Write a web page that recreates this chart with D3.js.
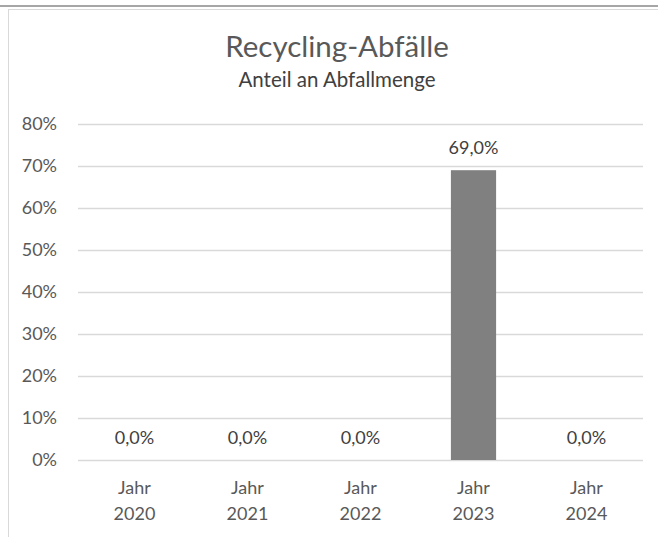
<!DOCTYPE html>
<html>
<head>
<meta charset="utf-8">
<title>Recycling-Abfälle</title>
<script src="https://cdn.jsdelivr.net/npm/d3@7"></script>
<style>
  body { margin: 0; background: #fff; }
  svg { display: block; font-family: Lato, "Open Sans", sans-serif; }
</style>
</head>
<body>
<svg id="chart" width="658" height="537"></svg>
<script>
// data
var years = ['Jahr 2020', 'Jahr 2021', 'Jahr 2022', 'Jahr 2023', 'Jahr 2024'];
var shares = [0.0, 0.0, 0.0, 69.0, 0.0];
var yTicks = [0, 10, 20, 30, 40, 50, 60, 70, 80];

var W = 658, H = 537;
var plot = { left: 78, right: 643, top: 124, bottom: 460 };
var textColor = '#595959';

var svg = d3.select('#chart');

// frame of the chart (top rule + left border)
svg.append('line').attr('x1', 0).attr('x2', W).attr('y1', 6).attr('y2', 6)
  .attr('stroke', '#a6a6a6').attr('stroke-width', 2);
svg.append('line').attr('x1', 8).attr('x2', W).attr('y1', 9.5).attr('y2', 9.5)
  .attr('stroke', '#d9d9d9').attr('stroke-width', 1);
svg.append('line').attr('x1', 8.5).attr('x2', 8.5).attr('y1', 9.5).attr('y2', H)
  .attr('stroke', '#d9d9d9').attr('stroke-width', 1);

var x = d3.scaleBand().domain(years).range([plot.left, plot.right]).paddingInner(0.6).paddingOuter(0.3);
var y = d3.scaleLinear().domain([0, 80]).range([plot.bottom, plot.top]);

// gridlines
svg.append('g').selectAll('line').data(yTicks).join('line')
  .attr('x1', plot.left).attr('x2', plot.right)
  .attr('y1', function (d) { return Math.round(y(d)) + 0.5; })
  .attr('y2', function (d) { return Math.round(y(d)) + 0.5; })
  .attr('stroke', '#d9d9d9').attr('stroke-width', 1.3);

// y axis labels
var yAxis = d3.axisLeft(y).tickValues(yTicks).tickSize(0).tickPadding(0)
  .tickFormat(function (d) { return d + '%'; });
svg.append('g').attr('transform', 'translate(57,0)').call(yAxis)
  .call(function (g) { g.select('.domain').remove(); })
  .selectAll('text')
  .attr('fill', textColor).style('font-size', '18px').style('font-family', 'Lato, sans-serif');

// bars
svg.append('g').selectAll('rect').data(years).join('rect')
  .attr('x', function (d) { return x(d); })
  .attr('width', x.bandwidth())
  .attr('y', function (d, i) { return y(shares[i]); })
  .attr('height', function (d, i) { return y(0) - y(shares[i]); })
  .attr('fill', '#808080');

// value labels
svg.append('g').selectAll('text').data(years).join('text')
  .attr('x', function (d) { return x(d) + x.bandwidth() / 2; })
  .attr('y', function (d, i) { return y(shares[i]) - 23; })
  .attr('text-anchor', 'middle')
  .attr('dominant-baseline', 'central')
  .attr('fill', '#404040')
  .style('font-size', '18px')
  .text(function (d, i) { return shares[i].toFixed(1).replace('.', ',') + '%'; });

// x axis labels (two lines)
var xl = svg.append('g').selectAll('text').data(years).join('text')
  .attr('text-anchor', 'middle')
  .attr('fill', textColor)
  .style('font-size', '18px');
xl.append('tspan')
  .attr('x', function (d) { return x(d) + x.bandwidth() / 2; })
  .attr('y', 494)
  .text(function (d) { return d.split(' ')[0]; });
xl.append('tspan')
  .attr('x', function (d) { return x(d) + x.bandwidth() / 2; })
  .attr('y', 520)
  .text(function (d) { return d.split(' ')[1]; });

// title
svg.append('text').attr('x', 337).attr('y', 57).attr('text-anchor', 'middle')
  .attr('fill', textColor).style('font-size', '29.5px').text('Recycling-Abfälle');
svg.append('text').attr('x', 337).attr('y', 87).attr('text-anchor', 'middle')
  .attr('fill', '#404040').style('font-size', '20.5px').text('Anteil an Abfallmenge');
</script>
</body>
</html>
